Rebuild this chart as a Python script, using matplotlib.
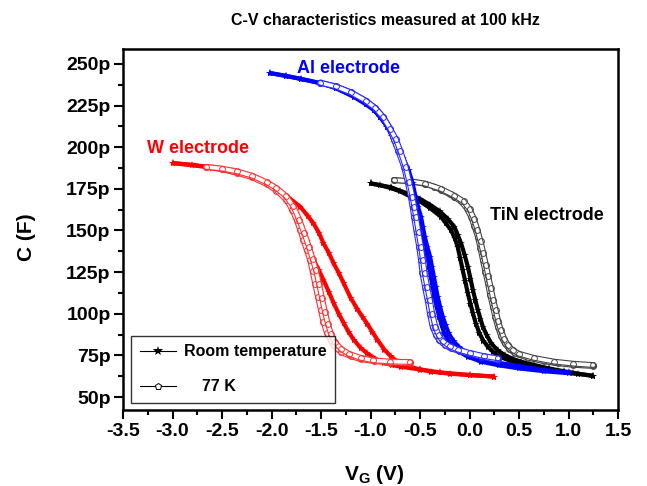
import matplotlib
matplotlib.use("Agg")
import matplotlib.pyplot as plt
from matplotlib.lines import Line2D
from matplotlib.ticker import FuncFormatter, MultipleLocator

# W electrode, room temperature (two sweep branches)
w_rt_a_v = [-3.0, -2.8, -2.6, -2.4, -2.2, -2.05, -1.9, -1.8, -1.71, -1.63, -1.576, -1.52, -1.475, -1.42,
            -1.373, -1.32, -1.271, -1.2, -1.135, -1.08, -1.033, -0.98, -0.932, -0.86, -0.797, -0.72,
            -0.627, -0.5, -0.39, -0.2, 0.0, 0.25]
w_rt_a_c = [190.5, 189.5, 187.8, 185.5, 182.0, 178.3, 172.8, 168.5, 164.3, 158.5, 154.3, 148.5, 142.3, 136.5,
            130.3, 124.5, 118.3, 109.5, 103.0, 98.0, 94.0, 89.0, 84.5, 78.5, 74.5, 71.0,
            68.5, 66.6, 65.3, 64.0, 63.2, 62.3]
w_rt_b_v = [-3.0, -2.6, -2.2, -2.0, -1.88, -1.8, -1.75, -1.7, -1.644, -1.6, -1.576, -1.52, -1.475, -1.42,
            -1.373, -1.32, -1.27, -1.22, -1.17, -1.1, -1.033, -0.95, -0.865, -0.78, -0.695, -0.5, -0.3,
            0.0, 0.25]
w_rt_b_c = [190.5, 187.8, 182.0, 177.0, 172.0, 166.5, 160.5, 153.0, 143.5, 136.5, 132.5, 126.0, 120.3, 113.0,
            106.5, 100.0, 94.3, 89.0, 84.5, 79.5, 76.2, 73.0, 70.5, 69.2, 68.2, 66.5, 64.8,
            63.2, 62.3]

# W electrode, 77 K
w_77_a_v = [-2.66, -2.5, -2.35, -2.2, -2.05, -1.95, -1.85, -1.79, -1.746, -1.71, -1.678, -1.645, -1.61,
            -1.585, -1.559, -1.53, -1.5, -1.475, -1.44, -1.4, -1.373, -1.3, -1.2, -1.1, -0.967, -0.8, -0.6]
w_77_a_c = [188.2, 186.8, 184.8, 182.0, 178.0, 174.0, 168.5, 162.5, 156.3, 150.5, 144.3, 138.5, 132.3,
            125.5, 118.0, 110.0, 102.0, 95.0, 88.5, 84.0, 81.0, 77.0, 74.5, 72.8, 71.5, 70.7, 70.2]
w_77_b_v = [-2.66, -2.5, -2.35, -2.2, -2.05, -1.95, -1.85, -1.78, -1.72, -1.67, -1.62, -1.585, -1.55,
            -1.52, -1.49, -1.46, -1.43, -1.4, -1.36, -1.3, -1.22, -1.1, -0.97, -0.8, -0.6]
w_77_b_c = [188.2, 187.2, 185.5, 183.0, 179.0, 175.5, 170.5, 164.5, 156.5, 148.5, 140.0, 133.0, 126.0,
            118.0, 109.5, 101.0, 94.0, 88.0, 83.0, 79.0, 76.0, 73.5, 72.0, 71.3, 71.0]

# Al electrode, room temperature
al_rt_a_v = [-2.02, -1.85, -1.7, -1.5, -1.35, -1.17, -1.05, -0.966, -0.9, -0.83, -0.78, -0.729, -0.68,
             -0.627, -0.59, -0.56, -0.535, -0.509, -0.49, -0.475, -0.45, -0.424, -0.405, -0.39, -0.372,
             -0.356, -0.33, -0.306, -0.28, -0.255, -0.21, -0.17, -0.1, -0.017, 0.118, 0.3, 0.5, 0.75, 1.0]
al_rt_a_c = [244.6, 242.8, 241.0, 238.4, 235.5, 230.4, 226.0, 222.4, 218.0, 212.3, 206.5, 200.3, 193.5,
             186.3, 178.5, 170.3, 164.0, 158.3, 152.0, 146.3, 140.0, 134.3, 128.0, 122.3, 116.0,
             110.3, 104.0, 98.2, 93.0, 88.2, 83.5, 80.2, 77.0, 74.2, 71.2, 69.0, 67.2, 65.5, 64.3]
al_rt_b_v = [-2.02, -1.85, -1.7, -1.5, -1.35, -1.17, -1.05, -0.966, -0.9, -0.83, -0.78, -0.729, -0.67,
             -0.615, -0.575, -0.545, -0.518, -0.49, -0.47, -0.452, -0.425, -0.398, -0.378, -0.36, -0.34,
             -0.322, -0.296, -0.27, -0.24, -0.21, -0.16, -0.11, -0.04, 0.03, 0.15, 0.3, 0.5, 0.75, 1.0]
al_rt_b_c = [244.6, 242.8, 241.0, 238.4, 235.5, 230.4, 226.0, 222.4, 218.0, 212.3, 206.5, 200.3, 193.5,
             186.3, 178.5, 170.3, 164.0, 158.3, 152.0, 146.3, 140.0, 134.3, 128.0, 122.3, 116.0,
             110.3, 104.0, 98.2, 93.0, 88.2, 83.5, 80.2, 77.0, 75.0, 72.5, 70.5, 68.5, 66.3, 64.8]

# Al electrode, 77 K
al_77_a_v = [-1.51, -1.35, -1.2, -1.05, -0.95, -0.87, -0.8, -0.763, -0.72, -0.662, -0.625, -0.593,
             -0.575, -0.56, -0.535, -0.509, -0.49, -0.475, -0.45, -0.424, -0.4, -0.373, -0.34, -0.306,
             -0.25, -0.187, -0.1, -0.017, 0.118, 0.29]
al_77_a_c = [238.8, 236.5, 233.0, 228.0, 223.5, 218.0, 211.0, 204.4, 198.0, 188.3, 179.0, 170.3,
             164.0, 158.3, 149.0, 140.3, 132.0, 124.3, 116.0, 108.3, 100.0, 92.2, 87.5, 84.2,
             81.2, 79.2, 77.5, 76.2, 74.2, 72.2]
al_77_b_v = [-1.51, -1.35, -1.2, -1.05, -0.95, -0.87, -0.8, -0.745, -0.7, -0.645, -0.607, -0.576,
             -0.557, -0.54, -0.515, -0.49, -0.47, -0.452, -0.426, -0.4, -0.375, -0.345, -0.31, -0.27,
             -0.2, -0.12, 0.0, 0.15, 0.29]
al_77_b_c = [238.8, 236.5, 233.0, 228.0, 223.5, 218.0, 211.0, 205.0, 198.0, 188.3, 179.0, 170.3,
             164.0, 158.3, 149.0, 140.3, 132.0, 124.3, 116.0, 108.3, 100.0, 92.2, 87.0, 83.5,
             80.5, 78.5, 76.5, 74.5, 73.2]

# TiN electrode, room temperature
tin_rt_a_v = [-1.0, -0.9, -0.797, -0.7, -0.593, -0.5, -0.4, -0.289, -0.24, -0.187, -0.15, -0.12, -0.095,
              -0.069, -0.043, -0.017, 0.01, 0.034, 0.065, 0.101, 0.14, 0.186, 0.24, 0.304, 0.4, 0.491,
              0.592, 0.75, 0.897, 1.05, 1.25]
tin_rt_a_c = [178.3, 177.2, 175.5, 173.5, 170.3, 167.5, 163.5, 158.3, 154.5, 150.3, 145.5, 140.3, 133.5,
              126.3, 119.5, 112.3, 106.0, 100.3, 94.0, 88.2, 83.8, 80.2, 77.0, 74.2, 72.0, 70.2,
              68.8, 67.0, 65.5, 64.2, 62.8]
tin_rt_b_v = [-1.0, -0.797, -0.593, -0.5, -0.4, -0.3, -0.22, -0.153, -0.12, -0.085, -0.05, -0.017, 0.01,
              0.034, 0.06, 0.084, 0.11, 0.135, 0.175, 0.22, 0.285, 0.355, 0.44, 0.524, 0.65, 0.8, 0.95,
              1.1, 1.25]
tin_rt_b_c = [178.3, 176.0, 171.5, 169.0, 165.5, 161.5, 157.0, 152.3, 147.5, 142.3, 135.5, 128.3, 121.0,
              114.3, 108.0, 102.3, 97.0, 92.2, 87.0, 82.2, 78.0, 75.2, 72.8, 71.2, 69.3, 67.2, 65.5,
              64.0, 62.6]

# TiN electrode, 77 K
tin_77_a_v = [-0.763, -0.6, -0.45, -0.356, -0.289, -0.2, -0.153, -0.085, -0.03, 0.016, 0.05, 0.084, 0.11,
              0.135, 0.16, 0.186, 0.21, 0.237, 0.26, 0.287, 0.32, 0.355, 0.4, 0.457, 0.592, 0.75, 0.897,
              1.05, 1.25]
tin_77_a_c = [180.3, 179.5, 178.0, 176.3, 174.3, 171.8, 170.0, 167.5, 163.5, 158.3, 152.5, 146.3, 139.5,
              132.3, 125.3, 118.3, 111.0, 104.2, 98.0, 92.2, 86.5, 82.2, 79.0, 76.2, 73.5, 71.5, 70.2,
              69.3, 68.6]
tin_77_b_v = [-0.763, -0.6, -0.45, -0.289, -0.153, -0.06, 0.0, 0.045, 0.08, 0.112, 0.14, 0.165, 0.19,
              0.215, 0.24, 0.265, 0.29, 0.318, 0.35, 0.39, 0.44, 0.5, 0.65, 0.85, 1.05, 1.25]
tin_77_b_c = [180.3, 179.6, 178.2, 175.0, 171.0, 167.5, 163.0, 157.0, 150.5, 143.5, 136.5, 129.5, 122.5,
              115.5, 108.5, 102.0, 95.5, 90.0, 85.0, 81.0, 78.0, 76.0, 73.5, 71.3, 70.0, 69.2]

x_ticks = [-3.5, -3.0, -2.5, -2.0, -1.5, -1.0, -0.5, 0.0, 0.5, 1.0, 1.5]
y_ticks = [50, 75, 100, 125, 150, 175, 200, 225, 250]

plt.rcParams["font.family"] = ["Liberation Sans", "DejaVu Sans"]
plt.rcParams["font.weight"] = "bold"
plt.rcParams["axes.unicode_minus"] = False
plt.rcParams["mathtext.fontset"] = "custom"
plt.rcParams["mathtext.rm"] = "Liberation Sans:bold"
plt.rcParams["mathtext.bf"] = "Liberation Sans:bold"

W, H = 647, 486
fig = plt.figure(figsize=(W / 100, H / 100), dpi=100)
ax = fig.add_axes([123 / W, (H - 410) / H, 495 / W, 361 / H])


def star_curve(v, c, color):
    ax.plot(v, c, color=color, lw=3.0, marker="*", ms=6, mew=0, solid_capstyle="butt")


def circle_curve(v, c, color):
    # hollow circles packed densely read as an outlined tube
    ax.plot(v, c, color=color, lw=4.2, solid_capstyle="round")
    ax.plot(v, c, color="white", lw=2.6, solid_capstyle="round")
    ax.plot(v, c, ls="none", marker="o", ms=4.2, mfc="none", mec=color, mew=0.7)


# black first, blue over it, red last; circles over stars
star_curve(tin_rt_a_v, tin_rt_a_c, "black")
star_curve(tin_rt_b_v, tin_rt_b_c, "black")
circle_curve(tin_77_a_v, tin_77_a_c, "#444444")
circle_curve(tin_77_b_v, tin_77_b_c, "#444444")

star_curve(al_rt_a_v, al_rt_a_c, "#0000ff")
star_curve(al_rt_b_v, al_rt_b_c, "#0000ff")
circle_curve(al_77_a_v, al_77_a_c, "#2a2aff")
circle_curve(al_77_b_v, al_77_b_c, "#2a2aff")

star_curve(w_rt_a_v, w_rt_a_c, "#ff0000")
star_curve(w_rt_b_v, w_rt_b_c, "#ff0000")
circle_curve(w_77_a_v, w_77_a_c, "#ff3030")
circle_curve(w_77_b_v, w_77_b_c, "#ff3030")

ax.set_xlim(-3.5, 1.5)
ax.set_ylim(42.2, 259.0)
ax.set_xticks(x_ticks)
ax.set_yticks(y_ticks)
ax.xaxis.set_minor_locator(MultipleLocator(0.25))
ax.yaxis.set_minor_locator(MultipleLocator(12.5))
ax.xaxis.set_major_formatter(FuncFormatter(lambda v, _: f"{v:.1f}"))
ax.yaxis.set_major_formatter(FuncFormatter(lambda v, _: f"{v:.0f}p"))
ax.tick_params(which="both", direction="out", top=False, right=False, width=1.5)
ax.tick_params(which="major", length=6.5, labelsize=14, pad=2.5)
ax.tick_params(which="minor", length=3.5)
for s in ax.spines.values():
    s.set_linewidth(1.8)

# legend
h_rt = Line2D([], [], color="black", lw=0.8, marker="*", ms=7, mew=0)
h_77 = Line2D([], [], color="black", lw=0.8, marker="p", ms=5, mfc="white", mew=0.7)
leg = ax.legend([h_rt, h_77], ["Room temperature", "    77 K"], loc="lower left",
                bbox_to_anchor=(0.016, 0.019), borderaxespad=0, frameon=True, fancybox=False,
                fontsize=11.5, handlelength=2.3, handletextpad=0.45, labelspacing=1.25,
                borderpad=0.55)
leg.get_frame().set_edgecolor("black")
leg.get_frame().set_linewidth(1.0)

# labels and annotations
fig.text(385 / W, 1 - 25 / H, "C-V characteristics measured at 100 kHz", ha="center",
         va="baseline", fontsize=11.5, fontweight="bold")
fig.text(26 / W, 1 - 237 / H, "C (F)", rotation=90, ha="center", va="center", fontsize=15,
         fontweight="bold")
fig.text(374 / W, 1 - 480 / H, r"$\mathbf{V_G}$ (V)", ha="center", va="baseline", fontsize=15,
         fontweight="bold")
fig.text(297 / W, 1 - 73 / H, "Al electrode", color="#0000ff", ha="left", va="baseline",
         fontsize=13, fontweight="bold")
fig.text(147 / W, 1 - 153 / H, "W electrode", color="#ff0000", ha="left", va="baseline",
         fontsize=13, fontweight="bold")
fig.text(490 / W, 1 - 220 / H, "TiN electrode", color="black", ha="left", va="baseline",
         fontsize=13, fontweight="bold")

fig.savefig("out.png", dpi=100)
